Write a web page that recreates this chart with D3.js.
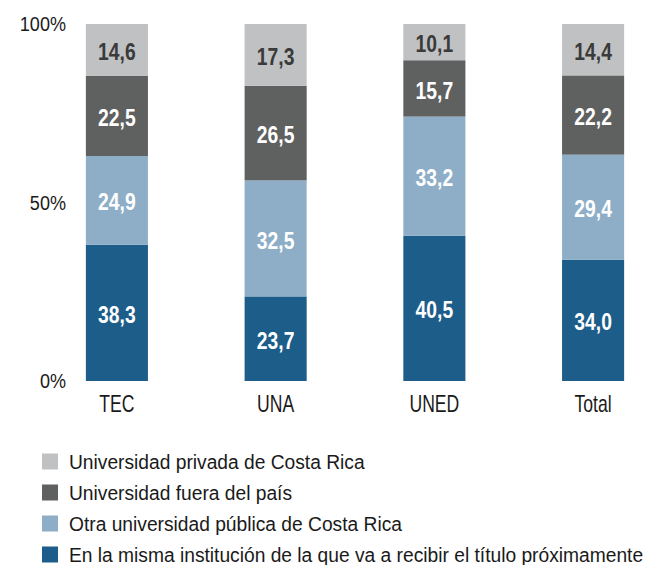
<!DOCTYPE html>
<html>
<head>
<meta charset="utf-8">
<script src="https://cdn.jsdelivr.net/npm/d3@7"></script>
<style>
  body { margin: 0; background: #fff; }
  svg text { font-family: "Liberation Sans", Arial, sans-serif; }
</style>
</head>
<body>
<div id="chart"></div>
<script>
// categories and series (bottom to top)
var categories = ['TEC', 'UNA', 'UNED', 'Total'];
var seriesKeys = ['misma', 'otraPublica', 'fuera', 'privada'];
var seriesNames = [
  'En la misma institución de la que va a recibir el título próximamente',
  'Otra universidad pública de Costa Rica',
  'Universidad fuera del país',
  'Universidad privada de Costa Rica'
];
var misma = [38.3, 23.7, 40.5, 34.0];
var otraPublica = [24.9, 32.5, 33.2, 29.4];
var fuera = [22.5, 26.5, 15.7, 22.2];
var privada = [14.6, 17.3, 10.1, 14.4];
var yTicks = [0, 0.5, 1];
var yTickLabels = ['0%', '50%', '100%'];

var colors = ['#1c5d8a', '#8eaec7', '#5f6060', '#c0c1c3'];
var labelColors = ['#fff', '#fff', '#fff', '#3a3a3a'];

var w = 645, h = 565;
// the original uses a condensed face, squeeze Liberation Sans to fit
var narrowTick = 0.86, narrowCat = 0.765, narrowBold = 0.84, narrowLegend = 0.915;

var rows = categories.map(function (c, i) {
  return { cat: c, misma: misma[i], otraPublica: otraPublica[i], fuera: fuera[i], privada: privada[i] };
});

// bars fill to 100% each
var stacked = d3.stack().keys(seriesKeys).offset(d3.stackOffsetExpand)(rows);

var svg = d3.select('#chart').append('svg')
  .attr('width', w)
  .attr('height', h);

var x = d3.scaleBand()
  .domain(categories)
  .range([70, 640])
  .paddingInner(0.609)
  .paddingOuter(0.1);

var y = d3.scaleLinear()
  .domain([0, 1])
  .range([381, 24]);

function place(px, py, k) {
  return 'translate(' + px + ',' + py + ') scale(' + k + ',1)';
}

// y tick labels, no axis line
svg.append('g').selectAll('text')
  .data(yTicks)
  .enter().append('text')
  .attr('transform', function (d) { return place(66, y(d), narrowTick); })
  .attr('dy', '0.35em')
  .attr('text-anchor', 'end')
  .attr('font-size', 21)
  .attr('fill', '#1a1a1a')
  .text(function (d, i) { return yTickLabels[i]; });

var layer = svg.append('g').selectAll('g')
  .data(stacked)
  .enter().append('g')
  .attr('fill', function (d, i) { return colors[i]; });

layer.selectAll('rect')
  .data(function (d) { return d; })
  .enter().append('rect')
  .attr('x', function (d) { return x(d.data.cat); })
  .attr('width', x.bandwidth())
  .attr('y', function (d) { return y(d[1]); })
  .attr('height', function (d) { return y(d[0]) - y(d[1]); });

// value labels
stacked.forEach(function (s, si) {
  svg.append('g').selectAll('text')
    .data(s)
    .enter().append('text')
    .attr('transform', function (d) {
      return place(x(d.data.cat) + x.bandwidth() / 2, (y(d[0]) + y(d[1])) / 2, narrowBold);
    })
    .attr('dy', '0.44em')
    .attr('text-anchor', 'middle')
    .attr('font-size', 23)
    .attr('font-weight', 'bold')
    .attr('fill', labelColors[si])
    .text(function (d) { return d3.format('.1f')(d.data[s.key]).replace('.', ','); });
});

// category labels
svg.append('g').selectAll('text')
  .data(categories)
  .enter().append('text')
  .attr('transform', function (d) { return place(x(d) + x.bandwidth() / 2, 403.5, narrowCat); })
  .attr('dy', '0.36em')
  .attr('text-anchor', 'middle')
  .attr('font-size', 23)
  .attr('fill', '#1a1a1a')
  .text(function (d) { return d; });

// legend, top entry is the top series
var legendOrder = [3, 2, 1, 0];
var leg = svg.append('g').selectAll('g')
  .data(legendOrder)
  .enter().append('g')
  .attr('transform', function (d, i) { return 'translate(42,' + (461.5 + i * 31) + ')'; });

leg.append('rect')
  .attr('x', 0)
  .attr('y', -8)
  .attr('width', 16)
  .attr('height', 16)
  .attr('fill', function (d) { return colors[d]; });

leg.append('text')
  .attr('transform', place(27, 0, narrowLegend))
  .attr('dy', '0.35em')
  .attr('font-size', 21)
  .attr('fill', '#1a1a1a')
  .text(function (d) { return seriesNames[d]; });
</script>
</body>
</html>
